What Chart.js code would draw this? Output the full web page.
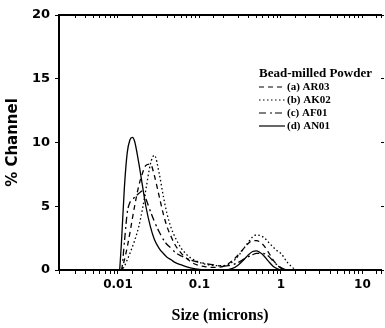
<!DOCTYPE html>
<html>
<head>
<meta charset="utf-8">
<script src="https://cdn.jsdelivr.net/npm/chart.js@4.4.1/dist/chart.umd.min.js"></script>
<style>
  html, body { margin: 0; padding: 0; background: #fff; }
</style>
</head>
<body>
<canvas id="psd" width="385" height="328"></canvas>
<script>
// particle size (microns), shared by all four curves
const sizes = [0.0105, 0.011, 0.012, 0.013, 0.014, 0.015, 0.016, 0.018, 0.02, 0.022, 0.025, 0.028,
  0.032, 0.036, 0.04, 0.045, 0.05, 0.06, 0.07, 0.08, 0.1, 0.12, 0.15, 0.2, 0.25, 0.3, 0.35, 0.4,
  0.45, 0.5, 0.6, 0.7, 0.8, 0.9, 1.0, 1.2, 1.5];

// % channel
const ar03 = [0, 0, 0.8, 1.8, 2.9, 4.0, 5.0, 6.6, 7.6, 8.2, 8.3, 7.4, 5.8, 4.4, 3.4, 2.6, 2.0, 1.3,
  0.9, 0.6, 0.35, 0.25, 0.2, 0.3, 0.7, 1.2, 1.7, 2.1, 2.3, 2.3, 2.0, 1.4, 0.8, 0.4, 0.15, 0, 0];
const ak02 = [0, 0, 0.3, 0.8, 1.3, 1.8, 2.3, 3.4, 4.8, 6.3, 8.3, 9.0, 7.6, 5.8, 4.4, 3.3, 2.6, 1.7,
  1.2, 0.9, 0.6, 0.45, 0.35, 0.35, 0.6, 1.1, 1.7, 2.2, 2.6, 2.75, 2.6, 2.2, 1.8, 1.5, 1.3, 0.6, 0];
const af01 = [0, 0, 2.2, 4.5, 5.3, 5.5, 5.7, 6.0, 6.2, 5.6, 4.6, 3.8, 3.0, 2.4, 2.0, 1.7, 1.4, 1.1,
  0.9, 0.75, 0.6, 0.5, 0.4, 0.3, 0.4, 0.6, 0.85, 1.05, 1.2, 1.3, 1.3, 1.1, 0.7, 0.4, 0.2, 0, 0];
const an01 = [0, 2.0, 6.5, 9.2, 10.2, 10.4, 10.1, 8.4, 6.6, 5.0, 3.4, 2.4, 1.7, 1.3, 1.0, 0.8, 0.6,
  0.4, 0.25, 0.15, 0.05, 0.02, 0, 0, 0.1, 0.4, 0.8, 1.2, 1.45, 1.5, 1.2, 0.7, 0.3, 0.1, 0, 0, 0];

const seriesNames = ['(a) AR03', '(b) AK02', '(c) AF01', '(d) AN01'];
const legendTitle = 'Bead-milled Powder';
const xLabelled = [0.01, 0.1, 1, 10];

const series = [ar03, ak02, af01, an01];
const dashes = [[5, 4], [1.5, 2.5], [7, 4, 2, 3], []];

const datasets = series.map((vals, i) => ({
  label: seriesNames[i],
  data: sizes.map((s, j) => ({ x: s, y: vals[j] })),
  borderColor: '#000',
  borderWidth: 1.3,
  borderDash: dashes[i],
  pointRadius: 0,
  fill: false,
  cubicInterpolationMode: 'monotone'
}));

const legendBox = {
  id: 'legendBox',
  afterDatasetsDraw(chart) {
    const ctx = chart.ctx;
    ctx.save();
    ctx.fillStyle = '#000';
    ctx.strokeStyle = '#000';
    ctx.textBaseline = 'middle';
    ctx.font = 'bold 13px "Liberation Serif"';
    ctx.fillText(legendTitle, 259, 74);
    chart.data.datasets.forEach((ds, i) => {
      const y = 87 + i * 13;
      ctx.setLineDash(ds.borderDash);
      ctx.lineWidth = 1.2;
      ctx.beginPath();
      ctx.moveTo(259, y);
      ctx.lineTo(285, y);
      ctx.stroke();
      ctx.setLineDash([]);
      ctx.font = 'bold 11px "Liberation Serif"';
      ctx.fillText(ds.label, 287, y);
    });
    ctx.restore();
  }
};

const isDecade = v => xLabelled.some(t => Math.abs(t - v) / t < 1e-6);

new Chart(document.getElementById('psd'), {
  type: 'line',
  data: { datasets: datasets },
  plugins: [legendBox],
  options: {
    responsive: false,
    animation: false,
    layout: { padding: { top: 15, right: 4, left: 0, bottom: 0 } },
    plugins: { legend: { display: false }, tooltip: { enabled: false } },
    scales: {
      x: {
        type: 'logarithmic',
        position: 'bottom',
        min: 0.00189,
        max: 16.9,
        afterFit: s => { s.height = 58; },
        border: { color: '#000', width: 2 },
        grid: { drawOnChartArea: false, tickLength: 4, color: '#000' },
        ticks: {
          autoSkip: false, maxRotation: 0, padding: 4, color: '#000',
          font: { family: 'DejaVu Sans', weight: 'bold', size: 12 },
          callback: v => isDecade(v) ? String(v) : ''
        },
        title: {
          display: true, text: 'Size (microns)', color: '#000',
          font: { family: 'Liberation Serif', weight: 'bold', size: 16 },
          padding: { top: 0, bottom: 3 }
        }
      },
      xTop: {
        type: 'logarithmic',
        position: 'top',
        min: 0.00189,
        max: 16.9,
        afterFit: s => { s.height = 0; },
        border: { color: '#000', width: 2 },
        grid: { drawOnChartArea: false, tickLength: -3, color: '#000' },
        ticks: { display: false, autoSkip: false }
      },
      y: {
        min: 0,
        max: 20,
        afterFit: s => { s.width = 59; },
        border: { color: '#000', width: 2 },
        grid: { drawOnChartArea: false, tickLength: 4, color: '#000' },
        ticks: {
          stepSize: 5, padding: 5, color: '#000',
          font: { family: 'DejaVu Sans', weight: 'bold', size: 13 }
        },
        title: {
          display: true, text: '% Channel', color: '#000',
          font: { family: 'DejaVu Sans', weight: 'bold', size: 15 },
          padding: { top: 4, bottom: 0 }
        }
      },
      yRight: {
        position: 'right',
        min: 0,
        max: 20,
        afterFit: s => { s.width = 0; },
        border: { display: false },
        grid: { drawOnChartArea: false, tickLength: 3, color: '#000' },
        ticks: { display: false, stepSize: 5 }
      }
    }
  }
});
</script>
</body>
</html>
